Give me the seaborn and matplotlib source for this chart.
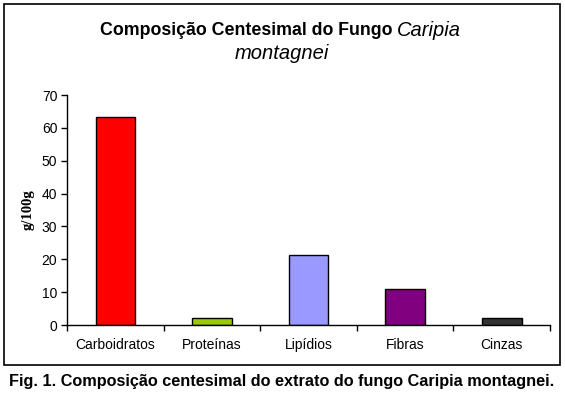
import matplotlib
matplotlib.use("Agg")
import matplotlib.pyplot as plt
import matplotlib.patches as patches
from matplotlib.ticker import FixedLocator, MultipleLocator
import pandas as pd
import seaborn as sns

# data
categories = ["Carboidratos", "Proteínas", "Lipídios", "Fibras", "Cinzas"]
values = [63.3, 2.1, 21.3, 11.0, 2.1]
colors = ["#ff0000", "#99cc00", "#9999ff", "#800080", "#333333"]

df = pd.DataFrame({"componente": categories, "valor": values})

sns.set_style("white")
plt.rcParams["font.family"] = ["Liberation Sans", "DejaVu Sans"]
plt.rcParams["text.color"] = "black"
plt.rcParams["axes.labelcolor"] = "black"
plt.rcParams["xtick.color"] = "black"
plt.rcParams["ytick.color"] = "black"

fig = plt.figure(figsize=(5.65, 3.93), dpi=100)
ax = fig.add_axes([0.1186, 0.173, 0.855, 0.585])

sns.barplot(data=df, x="componente", y="valor", hue="componente",
            palette=colors, legend=False, width=0.41,
            edgecolor="black", linewidth=1.0, saturation=1, ax=ax)

ax.set_ylim(0, 70)
ax.set_xlim(-0.5, len(categories) - 0.5)
ax.yaxis.set_major_locator(MultipleLocator(10))
ax.tick_params(axis="y", direction="out", length=4, width=1, color="black",
               labelsize=10, pad=3, left=True)
ax.tick_params(axis="x", which="major", length=0, labelsize=10, pad=9)
ax.xaxis.set_minor_locator(FixedLocator([i - 0.5 for i in range(len(categories) + 1)]))
ax.tick_params(axis="x", which="minor", direction="out", length=4, width=1,
               color="black", bottom=True)
for s in ["top", "right"]:
    ax.spines[s].set_visible(False)
for s in ["left", "bottom"]:
    ax.spines[s].set_color("black")
    ax.spines[s].set_linewidth(1)

ax.set_xlabel("")
ax.set_ylabel("g/100g", family=["Liberation Serif"], fontweight="bold",
              fontsize=10.5, labelpad=5)

# title in two styles
fig.text(0.703, 0.922, "Composição Centesimal do Fungo ", ha="right", va="center",
         fontsize=12.8, fontweight="bold")
fig.text(0.703, 0.922, "Caripia", ha="left", va="center",
         fontsize=14.5, fontstyle="italic")
fig.text(0.499, 0.864, "montagnei", ha="center", va="center",
         fontsize=14.5, fontstyle="italic")

# outer frame
fig.patches.append(patches.Rectangle((0.007, 0.071), 0.984, 0.919,
                                     transform=fig.transFigure, fill=False,
                                     edgecolor="black", linewidth=1.2))

fig.text(0.498, 0.030, "Fig. 1. Composição centesimal do extrato do fungo Caripia montagnei.",
         ha="center", va="center", fontsize=11.7, fontweight="bold")

fig.savefig("out.png", dpi=100)
